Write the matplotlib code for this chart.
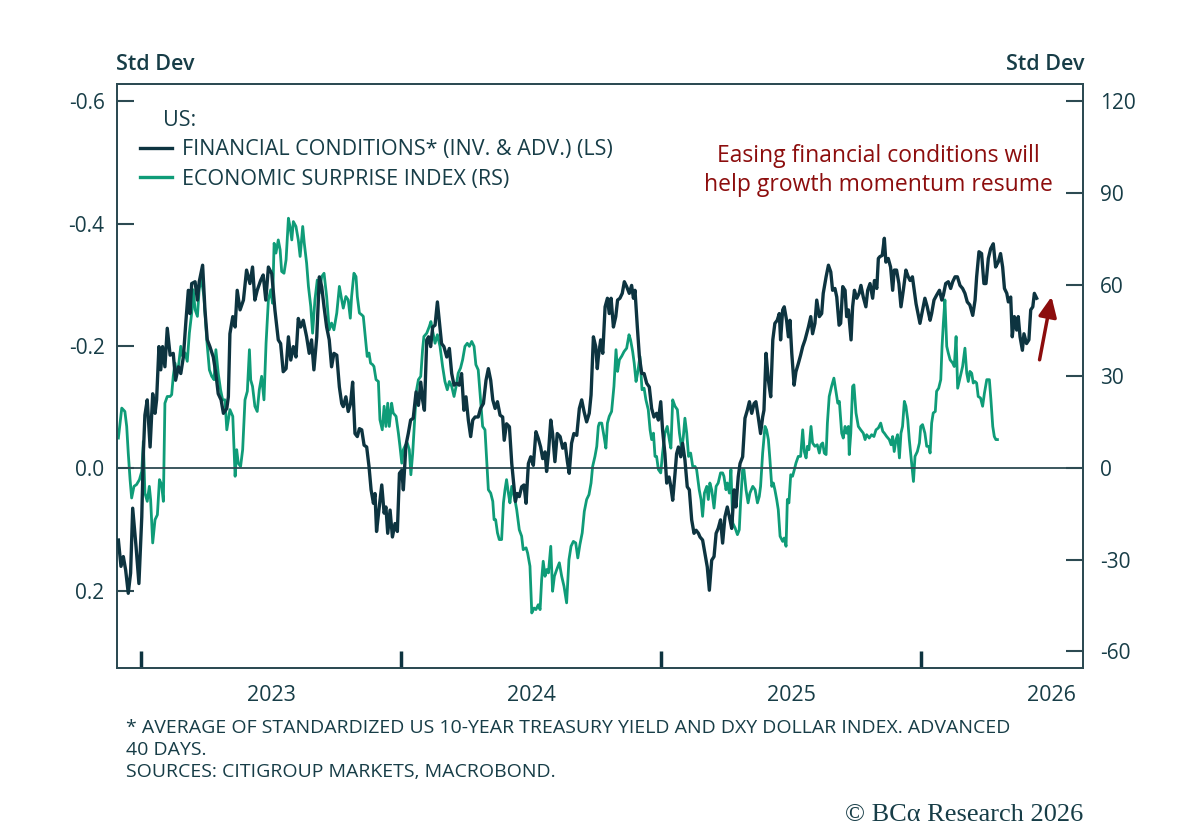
#US financial conditions vs economic surprise index
import matplotlib
matplotlib.use('Agg')
import matplotlib.pyplot as plt
from matplotlib.lines import Line2D

plt.rcParams['font.family'] = ['Open Sans', 'DejaVu Sans']
plt.rcParams['axes.unicode_minus'] = False

#financial conditions (inverted & advanced), decimal years and std dev values
fc_years = [2022.913, 2022.923, 2022.932, 2022.941, 2022.951, 2022.960, 2022.968, 2022.981, 2022.992, 2023.003,
            2023.009, 2023.015, 2023.024, 2023.035, 2023.045, 2023.054, 2023.060, 2023.069, 2023.076, 2023.083,
            2023.092, 2023.101, 2023.112, 2023.124, 2023.133, 2023.144, 2023.153, 2023.163, 2023.173, 2023.182,
            2023.188, 2023.195, 2023.208, 2023.217, 2023.224, 2023.237, 2023.246, 2023.255, 2023.265, 2023.278,
            2023.288, 2023.297, 2023.308, 2023.317, 2023.330, 2023.336, 2023.342, 2023.353, 2023.362, 2023.370,
            2023.381, 2023.394, 2023.406, 2023.419, 2023.429, 2023.438, 2023.447, 2023.460, 2023.470, 2023.480,
            2023.490, 2023.503, 2023.515, 2023.528, 2023.537, 2023.547, 2023.558, 2023.567, 2023.576, 2023.586,
            2023.596, 2023.605, 2023.614, 2023.624, 2023.637, 2023.647, 2023.656, 2023.665, 2023.676, 2023.686,
            2023.695, 2023.704, 2023.714, 2023.724, 2023.733, 2023.742, 2023.753, 2023.763, 2023.772, 2023.778,
            2023.788, 2023.797, 2023.806,
            2023.814, 2023.823, 2023.832, 2023.840, 2023.849, 2023.858, 2023.868, 2023.877, 2023.885, 2023.894,
            2023.900, 2023.906, 2023.915, 2023.926, 2023.935, 2023.942, 2023.949, 2023.958, 2023.967, 2023.977,
            2023.986, 2023.994, 2024.003, 2024.009, 2024.019, 2024.028, 2024.037, 2024.047, 2024.058, 2024.067,
            2024.076, 2024.083, 2024.090, 2024.099, 2024.106, 2024.114, 2024.122, 2024.131, 2024.140, 2024.147,
            2024.156, 2024.165, 2024.176, 2024.186, 2024.195, 2024.204, 2024.214, 2024.224, 2024.233, 2024.242,
            2024.250, 2024.259, 2024.268, 2024.276, 2024.285, 2024.297, 2024.306, 2024.317, 2024.327, 2024.336,
            2024.345, 2024.353, 2024.362, 2024.371, 2024.381, 2024.391, 2024.397, 2024.406, 2024.417, 2024.426,
            2024.432, 2024.440, 2024.447, 2024.455, 2024.464, 2024.473, 2024.481, 2024.490, 2024.499, 2024.509,
            2024.519, 2024.528, 2024.537, 2024.545, 2024.554, 2024.560, 2024.567, 2024.576, 2024.583, 2024.592,
            2024.601, 2024.612, 2024.622, 2024.631, 2024.640, 2024.647, 2024.656, 2024.665, 2024.676, 2024.686,
            2024.695, 2024.704, 2024.714, 2024.724, 2024.731, 2024.740, 2024.749, 2024.755,
            2024.759, 2024.768, 2024.776, 2024.785, 2024.794, 2024.801, 2024.808, 2024.817, 2024.826, 2024.833,
            2024.842, 2024.851, 2024.859, 2024.868, 2024.878, 2024.887, 2024.894, 2024.900, 2024.909, 2024.917,
            2024.926, 2024.935, 2024.945, 2024.955, 2024.964, 2024.973, 2024.983, 2024.990, 2024.999, 2025.006,
            2025.015, 2025.022, 2025.031, 2025.038, 2025.045, 2025.054, 2025.060, 2025.067, 2025.076, 2025.083,
            2025.092, 2025.101, 2025.109, 2025.118, 2025.127, 2025.135, 2025.144, 2025.150, 2025.160, 2025.169,
            2025.178, 2025.186, 2025.195, 2025.204, 2025.212, 2025.220, 2025.229, 2025.237, 2025.246, 2025.255,
            2025.263, 2025.272, 2025.281, 2025.288, 2025.297, 2025.304, 2025.314, 2025.323, 2025.332, 2025.340,
            2025.349, 2025.358, 2025.365, 2025.374, 2025.383, 2025.391, 2025.396, 2025.404, 2025.413, 2025.422,
            2025.430, 2025.438, 2025.447, 2025.455, 2025.460, 2025.468, 2025.474, 2025.483, 2025.490, 2025.496,
            2025.503, 2025.512, 2025.519, 2025.528, 2025.537, 2025.545, 2025.554, 2025.560, 2025.567, 2025.576,
            2025.583, 2025.592, 2025.599, 2025.609, 2025.618, 2025.624, 2025.635, 2025.644, 2025.653, 2025.660,
            2025.669, 2025.676, 2025.685,
            2025.691, 2025.699, 2025.708, 2025.714, 2025.721, 2025.731, 2025.737, 2025.744, 2025.753, 2025.762,
            2025.769, 2025.778, 2025.788, 2025.795, 2025.804, 2025.814, 2025.821, 2025.830, 2025.836, 2025.842,
            2025.851, 2025.859, 2025.865, 2025.874, 2025.883, 2025.891, 2025.897, 2025.906, 2025.915, 2025.923,
            2025.932, 2025.942, 2025.951, 2025.958, 2025.967, 2025.974, 2025.981, 2025.990, 2025.996, 2026.006,
            2026.015, 2026.024, 2026.035, 2026.041, 2026.050, 2026.060, 2026.071, 2026.080, 2026.086, 2026.095,
            2026.105, 2026.114, 2026.122, 2026.131, 2026.140, 2026.150, 2026.160, 2026.169, 2026.178, 2026.188,
            2026.199, 2026.208, 2026.214, 2026.223, 2026.233, 2026.242, 2026.250, 2026.259, 2026.268, 2026.278,
            2026.287, 2026.297, 2026.306, 2026.314, 2026.321, 2026.330, 2026.336, 2026.345, 2026.351, 2026.359,
            2026.368, 2026.374, 2026.381, 2026.390, 2026.396, 2026.406, 2026.415, 2026.422, 2026.430, 2026.436,
            2026.445]
fc_vals = [0.117, 0.160, 0.144, 0.166, 0.204, 0.171, 0.065, 0.128, 0.188, 0.079,
           -0.024, -0.087, -0.112, -0.035, -0.122, -0.090, -0.112, -0.199, -0.161, -0.199,
           -0.166, -0.229, -0.185, -0.188, -0.144, -0.166, -0.155, -0.182, -0.242, -0.291,
           -0.253, -0.302, -0.305, -0.275, -0.305, -0.332, -0.259, -0.210, -0.199, -0.182,
           -0.155, -0.122, -0.112, -0.090, -0.098, -0.117, -0.220, -0.248, -0.231, -0.291,
           -0.259, -0.275, -0.324, -0.302, -0.329, -0.275, -0.291, -0.307, -0.316, -0.275,
           -0.329, -0.318, -0.259, -0.210, -0.204, -0.158, -0.163, -0.215, -0.177, -0.199,
           -0.182, -0.245, -0.231, -0.242, -0.215, -0.188, -0.210, -0.161, -0.215, -0.313,
           -0.297, -0.264, -0.231, -0.210, -0.166, -0.188, -0.185, -0.133, -0.106, -0.101,
           -0.117, -0.093, -0.106,
           -0.141, -0.057, -0.052, -0.065, -0.063, -0.038, -0.035, -0.003, 0.035, 0.057,
           0.041, 0.103, 0.068, 0.027, 0.073, 0.063, 0.106, 0.068, 0.112, 0.090,
           0.103, 0.008, 0.003, 0.035, -0.038, -0.057, -0.079, -0.082, -0.125, -0.103,
           -0.141, -0.112, -0.095, -0.210, -0.215, -0.199, -0.231, -0.234, -0.272, -0.242,
           -0.204, -0.199, -0.182, -0.196, -0.155, -0.136, -0.139, -0.136, -0.155, -0.095,
           -0.117, -0.079, -0.052, -0.079, -0.084, -0.084, -0.098, -0.106, -0.144, -0.163,
           -0.144, -0.112, -0.098, -0.109, -0.087, -0.084, -0.046, -0.073, -0.068, -0.008,
           0.019, 0.054, 0.041, 0.046, 0.030, 0.027, 0.057, -0.008, -0.019, -0.005,
           -0.060, -0.049, -0.035, -0.016, -0.027, 0.005, -0.024, -0.079, -0.057, -0.011,
           -0.057, -0.052, -0.033, -0.041, -0.011, 0.008, -0.041, -0.057, -0.054, -0.098,
           -0.112, -0.093, -0.076, -0.090, -0.120, -0.215, -0.199, -0.163,
           -0.182, -0.210, -0.188, -0.264, -0.278, -0.253, -0.278, -0.231, -0.248, -0.275,
           -0.278, -0.286, -0.305, -0.297, -0.286, -0.299, -0.278, -0.291, -0.231, -0.182,
           -0.155, -0.155, -0.139, -0.133, -0.098, -0.084, -0.090, -0.079, -0.109, -0.063,
           -0.024, 0.024, 0.014, 0.030, 0.052, 0.008, -0.024, -0.035, -0.019, -0.041,
           -0.014, 0.030, 0.035, 0.084, 0.106, 0.101, 0.106, 0.112, 0.117, 0.139,
           0.161, 0.199, 0.150, 0.144, 0.106, 0.098, 0.084, 0.122, 0.079, 0.063,
           0.079, 0.098, 0.035, 0.063, 0.014, -0.008, -0.019, -0.082, -0.095, -0.109,
           -0.090, -0.106, -0.109, -0.084, -0.057, -0.084, -0.095, -0.188, -0.144, -0.117,
           -0.210, -0.237, -0.242, -0.253, -0.210, -0.259, -0.264, -0.242, -0.215, -0.242,
           -0.188, -0.136, -0.158, -0.171, -0.185, -0.199, -0.210, -0.220, -0.231, -0.248,
           -0.220, -0.237, -0.275, -0.248, -0.253, -0.286, -0.313, -0.332, -0.321, -0.291,
           -0.294, -0.280, -0.234,
           -0.237, -0.297, -0.291, -0.248, -0.259, -0.210, -0.264, -0.291, -0.278, -0.286,
           -0.299, -0.280, -0.264, -0.291, -0.302, -0.278, -0.307, -0.294, -0.343, -0.346,
           -0.348, -0.376, -0.337, -0.343, -0.329, -0.291, -0.324, -0.324, -0.302, -0.264,
           -0.291, -0.324, -0.313, -0.307, -0.313, -0.291, -0.269, -0.250, -0.237, -0.259,
           -0.278, -0.264, -0.242, -0.253, -0.275, -0.283, -0.291, -0.275, -0.283, -0.302,
           -0.305, -0.294, -0.305, -0.313, -0.313, -0.299, -0.294, -0.286, -0.272, -0.267,
           -0.250, -0.275, -0.313, -0.354, -0.351, -0.302, -0.302, -0.343, -0.359, -0.367,
           -0.329, -0.337, -0.351, -0.329, -0.294, -0.286, -0.272, -0.280, -0.215, -0.248,
           -0.226, -0.248, -0.215, -0.193, -0.220, -0.204, -0.210, -0.259, -0.264, -0.286,
           -0.278]

#economic surprise index, decimal years and index values
esi_years = [2022.913, 2022.926, 2022.938, 2022.945, 2022.951, 2022.958, 2022.964, 2022.973, 2022.983, 2022.994,
             2023.003, 2023.009, 2023.015, 2023.024, 2023.032, 2023.037, 2023.045, 2023.054, 2023.063, 2023.071,
             2023.079, 2023.086, 2023.092, 2023.101, 2023.112, 2023.118, 2023.124, 2023.131, 2023.137, 2023.144,
             2023.153, 2023.160, 2023.169, 2023.178, 2023.186, 2023.195, 2023.201, 2023.208, 2023.217, 2023.224,
             2023.233, 2023.242, 2023.253, 2023.263, 2023.272, 2023.281, 2023.288, 2023.297, 2023.306, 2023.314,
             2023.323, 2023.330, 2023.336, 2023.342, 2023.353, 2023.362, 2023.368, 2023.374, 2023.383, 2023.391,
             2023.400, 2023.409, 2023.417, 2023.422, 2023.429, 2023.438, 2023.447, 2023.455, 2023.464, 2023.473,
             2023.481, 2023.490, 2023.499, 2023.506, 2023.512, 2023.519, 2023.528, 2023.535, 2023.541, 2023.550,
             2023.558, 2023.567, 2023.573, 2023.580, 2023.586, 2023.596, 2023.605, 2023.612, 2023.622, 2023.628,
             2023.637, 2023.644, 2023.653, 2023.660, 2023.669, 2023.678, 2023.686, 2023.695, 2023.704, 2023.714,
             2023.724, 2023.733, 2023.742, 2023.753, 2023.763, 2023.772, 2023.778, 2023.788, 2023.797, 2023.805,
             2023.810, 2023.819, 2023.827, 2023.832, 2023.840, 2023.849, 2023.855, 2023.865, 2023.870, 2023.877,
             2023.883, 2023.891, 2023.896, 2023.904, 2023.913, 2023.919, 2023.928, 2023.935, 2023.942, 2023.949,
             2023.955, 2023.964, 2023.970, 2023.981, 2023.990, 2023.996, 2024.003, 2024.009, 2024.015, 2024.024,
             2024.032, 2024.038, 2024.045, 2024.054, 2024.060, 2024.067, 2024.076, 2024.083, 2024.088, 2024.099,
             2024.109, 2024.115, 2024.122, 2024.131, 2024.140, 2024.150, 2024.160, 2024.169, 2024.178, 2024.186,
             2024.195, 2024.204, 2024.212, 2024.220, 2024.229, 2024.237, 2024.246, 2024.255, 2024.263, 2024.272,
             2024.281, 2024.288, 2024.297, 2024.306, 2024.314, 2024.323, 2024.330, 2024.336, 2024.345, 2024.353,
             2024.358, 2024.364, 2024.371, 2024.378, 2024.387, 2024.394, 2024.400, 2024.406, 2024.413, 2024.419,
             2024.426, 2024.432, 2024.438, 2024.445, 2024.455, 2024.464, 2024.470, 2024.481, 2024.487, 2024.496,
             2024.503, 2024.512, 2024.519, 2024.528, 2024.535, 2024.541, 2024.547, 2024.554, 2024.560, 2024.567,
             2024.576, 2024.583, 2024.590, 2024.599, 2024.609, 2024.618, 2024.627, 2024.637, 2024.646, 2024.654,
             2024.663, 2024.672, 2024.680, 2024.688, 2024.697, 2024.705, 2024.714, 2024.723, 2024.731, 2024.737,
             2024.746, 2024.753, 2024.759,
             2024.763, 2024.772, 2024.781, 2024.788, 2024.794, 2024.801, 2024.810, 2024.819, 2024.827, 2024.833,
             2024.840, 2024.849, 2024.858, 2024.868, 2024.877, 2024.883, 2024.891, 2024.897, 2024.904, 2024.910,
             2024.919, 2024.927, 2024.935, 2024.942, 2024.951, 2024.958, 2024.964, 2024.971, 2024.977, 2024.983,
             2024.990, 2024.999, 2025.006, 2025.015, 2025.024, 2025.032, 2025.038, 2025.045, 2025.054, 2025.063,
             2025.071, 2025.080, 2025.086, 2025.092, 2025.099, 2025.106, 2025.114, 2025.122, 2025.131, 2025.137,
             2025.147, 2025.154, 2025.160, 2025.167, 2025.176, 2025.182, 2025.188, 2025.195, 2025.204, 2025.212,
             2025.220, 2025.229, 2025.237, 2025.242, 2025.250, 2025.255, 2025.263, 2025.269, 2025.276, 2025.285,
             2025.294, 2025.301, 2025.306, 2025.314, 2025.319, 2025.327, 2025.335, 2025.342, 2025.353, 2025.362,
             2025.371, 2025.378, 2025.383, 2025.391, 2025.400, 2025.406, 2025.413, 2025.419, 2025.426, 2025.432,
             2025.438, 2025.445, 2025.451, 2025.458, 2025.468, 2025.474, 2025.481, 2025.486, 2025.492, 2025.499,
             2025.506, 2025.513, 2025.519, 2025.528, 2025.537, 2025.545, 2025.551, 2025.558, 2025.563, 2025.569,
             2025.577, 2025.583, 2025.592, 2025.601, 2025.609, 2025.615, 2025.622, 2025.628, 2025.635, 2025.640,
             2025.647, 2025.656, 2025.665, 2025.673, 2025.680,
             2025.686, 2025.695, 2025.701, 2025.708, 2025.714, 2025.721, 2025.724, 2025.730, 2025.737, 2025.742,
             2025.750, 2025.759, 2025.768, 2025.778, 2025.785, 2025.791, 2025.801, 2025.810, 2025.819, 2025.827,
             2025.836, 2025.845, 2025.853, 2025.859, 2025.868, 2025.878, 2025.885, 2025.891, 2025.897, 2025.904,
             2025.910, 2025.917, 2025.923, 2025.929, 2025.936, 2025.942, 2025.949, 2025.955, 2025.964, 2025.971,
             2025.977, 2025.986, 2025.994, 2025.999, 2026.006, 2026.015, 2026.022, 2026.030, 2026.035, 2026.041,
             2026.047, 2026.055, 2026.060, 2026.068, 2026.076, 2026.081, 2026.086, 2026.092, 2026.099, 2026.105,
             2026.112, 2026.122, 2026.128, 2026.135, 2026.141, 2026.150, 2026.160, 2026.169, 2026.176, 2026.182,
             2026.188, 2026.195, 2026.201, 2026.208, 2026.214, 2026.220, 2026.229, 2026.237, 2026.244, 2026.253,
             2026.263, 2026.269, 2026.276, 2026.282, 2026.288, 2026.294]
esi_vals = [9.8, 19.6, 18.5, 13.6, 4.9, -3.8, -9.8, -6.0, -5.4, -3.8,
            -1.1, 8.7, -8.2, -10.9, -6.0, -10.3, -24.5, -16.9, -15.3, -3.8,
            -5.4, -10.9, 21.2, 23.4, 23.4, 24.0, 30.0, 34.3, 31.0, 33.2,
            39.8, 36.6, 37.7, 34.9, 44.1, 50.7, 58.3, 51.8, 49.6, 58.8,
            61.5, 56.1, 41.9, 32.1, 30.0, 28.9, 38.7, 31.0, 25.6, 22.3,
            22.3, 12.5, 15.8, 19.1, 16.9, -2.7, 6.0, 1.6, 0.5, 6.0,
            22.3, 25.1, 38.7, 28.8, 26.7, 20.2, 18.5, 25.6, 30.0, 22.3,
            40.8, 55.0, 58.3, 53.9, 73.5, 70.3, 74.6, 71.4, 64.3, 63.7,
            68.1, 81.7, 79.0, 74.6, 80.6, 79.0, 74.6, 69.2, 79.0, 73.5,
            67.0, 59.4, 52.8, 44.1, 55.0, 61.5, 57.2, 62.6, 63.7, 56.1,
            45.2, 47.4, 45.2, 50.7, 59.4, 55.0, 52.3, 56.1, 55.0, 49.0,
            56.1, 63.7, 62.6, 56.1, 50.7, 50.1, 49.6, 40.8, 36.5, 37.6,
            34.3, 33.8, 33.2, 28.9, 28.3, 15.8, 12.5, 20.2, 13.6, 21.2,
            13.6, 21.2, 18.0, 16.9, 11.4, 7.1, 1.6, 6.0, 7.1, 8.2,
            6.0, -2.2, 4.9, 18.0, 25.6, 28.9, 30.0, 38.7, 43.0, 44.1,
            46.3, 47.9, 44.7, 40.8, 43.6, 39.8, 33.2, 28.3, 25.6, 28.3,
            26.7, 23.4, 26.7, 31.0, 32.7, 35.4, 39.8, 40.8, 39.8, 41.4,
            39.8, 33.8, 32.1, 22.3, 13.6, 12.5, 1.6, -7.1, -8.2, -10.9,
            -16.9, -16.9, -21.2, -23.4, -23.4, -11.4, -7.1, -3.8, -8.2, -11.4,
            -6.0, -8.2, -10.3, -13.6, -20.2, -22.3, -26.7, -26.1, -27.8, -32.1,
            -47.4, -45.8, -46.3, -44.7, -46.3, -36.5, -30.5, -35.4, -33.2, -34.3,
            -25.6, -40.3, -35.4, -33.2, -31.0, -35.4, -38.7, -44.1, -30.0, -25.6,
            -24.0, -24.5, -29.4, -25.1, -21.2, -14.2, -10.3, -8.7, -4.9, 0.5,
            3.8, 7.1, 13.6,
            14.7, 14.7, 10.3, 6.5, 14.7, 16.9, 18.5, 26.7, 38.7, 31.6,
            35.4, 36.6, 38.1, 39.2, 43.6, 41.9, 38.1, 34.3, 28.3, 31.0,
            36.5, 25.6, 26.1, 22.3, 19.1, 12.5, 9.3, 11.4, 3.8, 3.8,
            -0.5, -1.6, 4.9, 11.4, 13.6, 9.3, 6.5, 22.3, 20.2, 19.1,
            11.4, 6.0, 10.3, 16.3, 11.4, 3.8, 4.9, 0.5, 0.5, -0.5,
            -7.1, -10.3, -15.8, -8.2, -6.0, -10.3, -4.9, -7.1, -13.1, -6.0,
            -4.9, -1.6, -1.6, -2.7, -7.1, -4.9, -8.2, -0.5, -18.0, -19.6,
            -21.8, -20.2, -11.4, -0.5, -0.5, -7.1, -11.4, -8.2, -6.0, -7.1,
            -11.4, -9.3, -6.0, 4.9, 13.6, 12.5, 9.3, 2.7, -6.0, -4.9,
            -7.1, -10.3, -13.6, -22.3, -24.0, -22.9, -25.6, -10.3, -11.4, -2.2,
            -2.7, -0.5, 1.6, 3.8, 3.8, 12.5, 5.4, 3.3, 7.1, 6.0,
            13.6, 8.2, 7.1, 7.6, 4.9, 7.6, 8.2, 4.9, 4.4, 14.7,
            23.4, 26.7, 29.4, 25.1, 21.2,
            21.8, 11.4, 9.8, 13.6, 11.4, 13.6, 4.4, 11.4, 26.7, 27.2,
            18.0, 13.6, 12.5, 11.4, 9.3, 10.9, 9.8, 10.9, 10.3, 12.5,
            13.1, 14.7, 12.0, 11.4, 10.3, 9.3, 7.6, 10.3, 5.4, 9.3,
            10.9, 3.3, 11.4, 13.6, 21.8, 20.2, 15.8, 9.3, 1.6, -4.4,
            3.8, 5.4, 8.2, 13.6, 14.2, 11.4, 7.1, 7.1, 4.9, 14.7,
            18.0, 18.5, 25.1, 26.1, 28.9, 39.8, 47.4, 55.0, 39.8, 37.6,
            35.4, 34.3, 33.2, 43.0, 26.1, 29.4, 33.2, 39.2, 31.0, 28.3,
            31.6, 31.0, 27.8, 28.3, 27.8, 23.4, 22.9, 20.2, 24.5, 28.9,
            28.9, 22.3, 13.6, 10.3, 9.3, 9.3]

left_ticks = [-0.6, -0.4, -0.2, 0.0, 0.2]
left_labels = ['-0.6', '-0.4', '-0.2', '0.0', '0.2']
right_ticks = [120, 90, 60, 30, 0, -30, -60]
year_bounds = [2023, 2024, 2025, 2026]
year_labels = ['2023', '2024', '2025', '2026']

DARK = '#0d3440'
GREEN = '#0f9c78'
TEXT = '#173d47'
AXIS = '#2c4a52'
RED = '#8c0d0d'

fig = plt.figure(figsize=(12, 8.3), dpi=100)
ax = fig.add_axes([0.0975, 0.1952, 0.805, 0.7036])
ax2 = ax.twinx()

ax.axhline(0, color=AXIS, lw=1.3, zorder=1)
ax2.plot(esi_years, esi_vals, color=GREEN, lw=2.0, solid_joinstyle='round', zorder=2)
ax.plot(fc_years, fc_vals, color=DARK, lw=2.4, solid_joinstyle='round', zorder=3)
ax.set_zorder(ax2.get_zorder() + 1)
ax.patch.set_visible(False)

ax.set_xlim(2022.9077, 2026.6231)
ax.set_ylim(0.326, -0.628)
ax2.set_ylim(-65.4, 125.6)

ax.set_yticks(left_ticks)
ax.set_yticklabels(left_labels)
ax2.set_yticks(right_ticks)
ax.set_xticks(year_bounds)
ax.set_xticklabels([''] * len(year_bounds))
ax.set_xticks([y + 0.5 for y in year_bounds], minor=True)
ax.set_xticklabels(year_labels, minor=True)

ax.tick_params(axis='y', direction='in', length=12, width=1.5, color=AXIS,
               labelsize=15, labelcolor=TEXT, pad=9)
ax2.tick_params(axis='y', direction='in', length=12, width=1.5, color=AXIS,
                labelsize=15, labelcolor=TEXT, pad=12)
ax.tick_params(axis='x', which='major', direction='in', length=12, width=2.5, color=DARK)
ax.tick_params(axis='x', which='minor', length=0, labelsize=15.5, labelcolor=TEXT, pad=12)
ax2.tick_params(axis='x', which='both', length=0)

for a in (ax, ax2):
    for s in a.spines.values():
        s.set_color(AXIS)
        s.set_linewidth(1.3)

fig.text(116 / 1200, 1 - 65 / 830, 'Std Dev', fontsize=15.5, color=TEXT, va='center', ha='left', fontweight='semibold')
fig.text(1084 / 1200, 1 - 65 / 830, 'Std Dev', fontsize=15.5, color=TEXT, va='center', ha='right', fontweight='semibold')

#legend
ax.text(0.048, 0.9367, 'US:', transform=ax.transAxes, fontsize=15.5, color=TEXT, va='center')
handles = [Line2D([], [], color=DARK, lw=2.4), Line2D([], [], color=GREEN, lw=2.4)]
ax.legend(handles, ['FINANCIAL CONDITIONS* (INV. & ADV.) (LS)', 'ECONOMIC SURPRISE INDEX (RS)'],
          loc='upper left', bbox_to_anchor=(0.0238, 0.9055), frameon=False, fontsize=15.5,
          labelcolor=TEXT, handlelength=1.5, handletextpad=0.47, labelspacing=0.4,
          borderaxespad=0, borderpad=0)

#annotation
ax.text(2025.835, -0.487, 'Easing financial conditions will\nhelp growth momentum resume',
        fontsize=16.5, color=RED, ha='center', va='center', linespacing=1.25)
ax.annotate('', xy=(2026.504, -0.285), xytext=(2026.454, -0.173),
            arrowprops=dict(arrowstyle='-|>,head_length=1.2,head_width=0.55', color=RED, lw=2.5))

fig.text(126 / 1200, 1 - 719 / 830,
         '* AVERAGE OF STANDARDIZED US 10-YEAR TREASURY YIELD AND DXY DOLLAR INDEX. ADVANCED\n'
         '40 DAYS.\nSOURCES: CITIGROUP MARKETS, MACROBOND.',
         fontsize=14, color=TEXT, va='top', ha='left', linespacing=1.27)
fig.text(1083 / 1200, 1 - 815 / 830, '\u00a9 BC\u03b1 Research 2026', fontsize=19, color=TEXT,
         ha='right', va='center', family=['Liberation Serif', 'DejaVu Serif'])

fig.savefig('out.png', dpi=100)
